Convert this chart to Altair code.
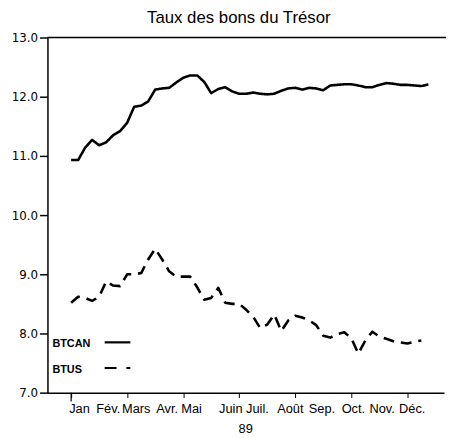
import altair as alt
import pandas as pd

# Weekly observations, 1989
weeks = list(range(52))

btcan = [10.93, 10.93, 11.14, 11.27, 11.18, 11.23, 11.35, 11.42, 11.56, 11.83,
         11.85, 11.92, 12.12, 12.14, 12.15, 12.24, 12.32, 12.36, 12.36, 12.25,
         12.06, 12.13, 12.16, 12.09, 12.05, 12.05, 12.07, 12.05, 12.04, 12.05,
         12.10, 12.14, 12.15, 12.12, 12.15, 12.14, 12.11, 12.19, 12.20, 12.21,
         12.21, 12.19, 12.16, 12.16, 12.20, 12.23, 12.22, 12.20, 12.20, 12.19,
         12.18, 12.21]

btus = [8.52, 8.62, 8.60, 8.55, 8.62, 8.88, 8.81, 8.80, 9.00, 9.00,
        9.02, 9.25, 9.43, 9.25, 9.05, 8.96, 8.96, 8.96, 8.78, 8.57,
        8.60, 8.77, 8.52, 8.50, 8.50, 8.40, 8.28, 8.09, 8.15, 8.32,
        8.04, 8.22, 8.30, 8.27, 8.22, 8.14, 7.96, 7.93, 7.99, 8.02,
        7.92, 7.66, 7.88, 8.03, 7.95, 7.91, 7.87, 7.85, 7.83, 7.86,
        7.88]

series_names = ["BTCAN", "BTUS"]

month_labels = ["Jan", "Fév.", "Mars", "Avr.", "Mai", "Juin", "Juil.",
                "Août", "Sep.", "Oct.", "Nov.", "Déc."]
month_pos = [1.2, 5.3, 9.3, 13.7, 17.2, 22.8, 26.6, 31.3, 35.8, 40.3, 44.4, 48.7]

y_ticks = [7, 8, 9, 10, 11, 12, 13]
year_label = "89"
title_text = "Taux des bons du Trésor"

rows = []
for w, v in zip(weeks, btcan):
    rows.append({"week": w, "value": v, "series": series_names[0]})
for w, v in zip(weeks, btus):
    rows.append({"week": w, "value": v, "series": series_names[1]})
df = pd.DataFrame(rows)

W, H = 402, 360
xscale = alt.Scale(domain=[-3.38, 53.24], nice=False, zero=False)
yscale = alt.Scale(domain=[7, 13], nice=False, zero=False)
FONT = "Liberation Sans"

lines = alt.Chart(df).mark_line(strokeWidth=2.6, color="black", strokeJoin="round", strokeCap="butt").encode(
    x=alt.X("week:Q", scale=xscale,
            axis=alt.Axis(values=weeks, labels=False, title=None, grid=False,
                          tickSize=5, tickColor="black", domainColor="black",
                          tickWidth=1, domainWidth=1.5)),
    y=alt.Y("value:Q", scale=yscale,
            axis=alt.Axis(values=y_ticks, format=".1f", title=None, grid=False,
                          tickSize=8, tickColor="black", domainColor="black",
                          tickWidth=1.5, domainWidth=1.5, labelPadding=2,
                          labelFont="DejaVu Sans", labelFontSize=12,
                          labelColor="black")),
    strokeDash=alt.StrokeDash("series:N",
                              scale=alt.Scale(domain=series_names, range=[[1, 0], [11, 7]]),
                              legend=None),
    detail="series:N",
)

top_border = alt.Chart(pd.DataFrame({"a": [0]})).mark_rule(color="black", strokeWidth=1.5).encode(
    x=alt.value(0), x2=alt.value(W + 4), y=alt.value(0)
)

first_tick = alt.Chart(pd.DataFrame({"week": [0]})).mark_rule(color="black", strokeWidth=1.2).encode(
    x=alt.X("week:Q", scale=xscale), y=alt.value(H), y2=alt.value(H + 9)
)

months_df = pd.DataFrame({"week": month_pos, "label": month_labels})
months = alt.Chart(months_df).mark_text(font=FONT, fontSize=13, color="black",
                                         baseline="middle", align="center").encode(
    x=alt.X("week:Q", scale=xscale), y=alt.value(377), text="label:N"
)

year = alt.Chart(pd.DataFrame({"t": [year_label]})).mark_text(
    font=FONT, fontSize=13, color="black", baseline="middle", align="center"
).encode(x=alt.value(201), y=alt.value(397), text="t:N")

leg_df = pd.DataFrame({"name": series_names, "ty": [311, 337]})
leg_text = alt.Chart(leg_df).mark_text(font=FONT, fontSize=11, fontWeight="bold",
                                        color="black", align="left", baseline="middle").encode(
    x=alt.value(5), y=alt.Y("ty:Q", scale=None), text="name:N"
)
leg_solid = alt.Chart(pd.DataFrame({"a": [0]})).mark_rule(color="black", strokeWidth=2.2).encode(
    x=alt.value(58), x2=alt.value(84), y=alt.value(309)
)
leg_dash = alt.Chart(pd.DataFrame({"a": [0]})).mark_rule(color="black", strokeWidth=2.2,
                                                         strokeDash=[12, 10]).encode(
    x=alt.value(58), x2=alt.value(84), y=alt.value(335)
)

chart = alt.layer(lines, top_border, first_tick, months, year, leg_text, leg_solid, leg_dash).properties(
    width=W, height=H,
    title=alt.TitleParams(title_text, font=FONT, fontSize=17, fontWeight="normal",
                          color="black", anchor="middle", dx=-7, offset=5),
    autosize=alt.AutoSizeParams(type="none"),
    padding={"left": 40, "top": 27, "right": 2, "bottom": 41},
).configure_view(stroke=None)

chart.save("out.html", embed_options={"renderer": "svg", "actions": False})
